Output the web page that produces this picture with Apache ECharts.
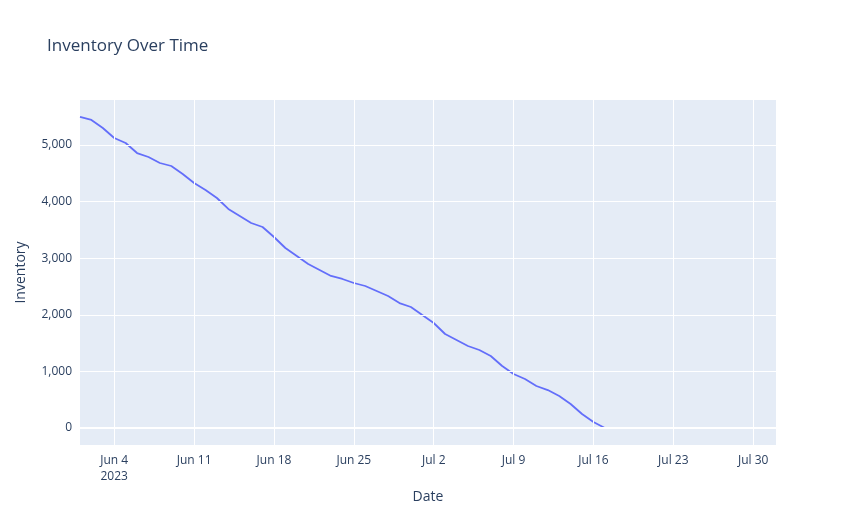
<!DOCTYPE html>
<html><head><meta charset="utf-8">
<script src="https://cdn.jsdelivr.net/npm/echarts@6/dist/echarts.min.js"></script>
<style>html,body{margin:0;padding:0;background:#fff}#c{width:857px;height:525px}</style>
</head><body><div id="c"></div>
<script>
const startDate = '2023-06-01';
const inventory = [5495,5442,5300,5124,5035,4858,4788,4682,4629,4488,4329,4205,4064,3870,3746,3622,3551,3375,3180,3039,2898,2792,2686,2633,2562,2509,2420,2332,2208,2138,1996,1855,1661,1555,1449,1378,1272,1095,954,866,742,671,565,424,247,106,0,0,0,0,0,0,0,0,0,0,0,0,0,0,0,0];
const xTickDates = ['2023-06-04','2023-06-11','2023-06-18','2023-06-25','2023-07-02','2023-07-09','2023-07-16','2023-07-23','2023-07-30'];
const yTicks = [0,1000,2000,3000,4000,5000];
const DAY = 86400000;
const t0 = Date.parse(startDate + 'T00:00:00Z');
const pts = inventory.map((v,i)=>[t0 + i*DAY, v]);
const xTicks = xTickDates.map(d=>Date.parse(d+'T00:00:00Z'));
const MON = ['Jan','Feb','Mar','Apr','May','Jun','Jul','Aug','Sep','Oct','Nov','Dec'];
function fmt(v){const d=new Date(v);const s=MON[d.getUTCMonth()]+' '+d.getUTCDate();return v===xTicks[0]? s+'\n'+d.getUTCFullYear():s;}
const txt = '#2a3f5f';
const grid = [];
xTicks.forEach(x=>grid.push({xAxis:x}));
yTicks.forEach(y=>grid.push({yAxis:y, lineStyle:{width:y===0?2:1}}));
const chart = echarts.init(document.getElementById('c'));
chart.setOption({
  animation:false,
  backgroundColor:'#fff',
  title:{text:'Inventory Over Time',left:42,top:33,textStyle:{color:txt,fontSize:17,fontWeight:'normal',fontFamily:'Open Sans, sans-serif'}},
  grid:{left:80,right:81,top:100,bottom:80,show:true,backgroundColor:'#E5ECF6',borderWidth:0},
  xAxis:{type:'value',min:pts[0][0],max:pts[pts.length-1][0],
    name:'Date',nameLocation:'middle',nameGap:42,nameTextStyle:{color:txt,fontSize:14,fontFamily:'Open Sans, sans-serif'},
    axisLine:{show:false},axisTick:{show:false},splitLine:{show:false},
    axisLabel:{customValues:xTicks,formatter:fmt,color:txt,fontSize:12,margin:8,lineHeight:16,fontFamily:'Open Sans, sans-serif'}},
  yAxis:{type:'value',min:-300,max:5795,
    name:'Inventory',nameLocation:'middle',nameGap:52,nameTextStyle:{color:txt,fontSize:14,fontFamily:'Open Sans, sans-serif'},
    axisLine:{show:false},axisTick:{show:false},splitLine:{show:false},
    axisLabel:{customValues:yTicks,color:txt,fontSize:12,margin:8,fontFamily:'Open Sans, sans-serif'}},
  series:[
    {type:'line',data:[],z:1,silent:true,markLine:{silent:true,symbol:'none',label:{show:false},animation:false,
      lineStyle:{color:'#fff',type:'solid',width:1},data:grid}},
    {type:'line',data:pts,z:3,showSymbol:false,lineStyle:{color:'#636EFA',width:1.8},itemStyle:{color:'#636EFA'}}
  ]
});
</script></body></html>
